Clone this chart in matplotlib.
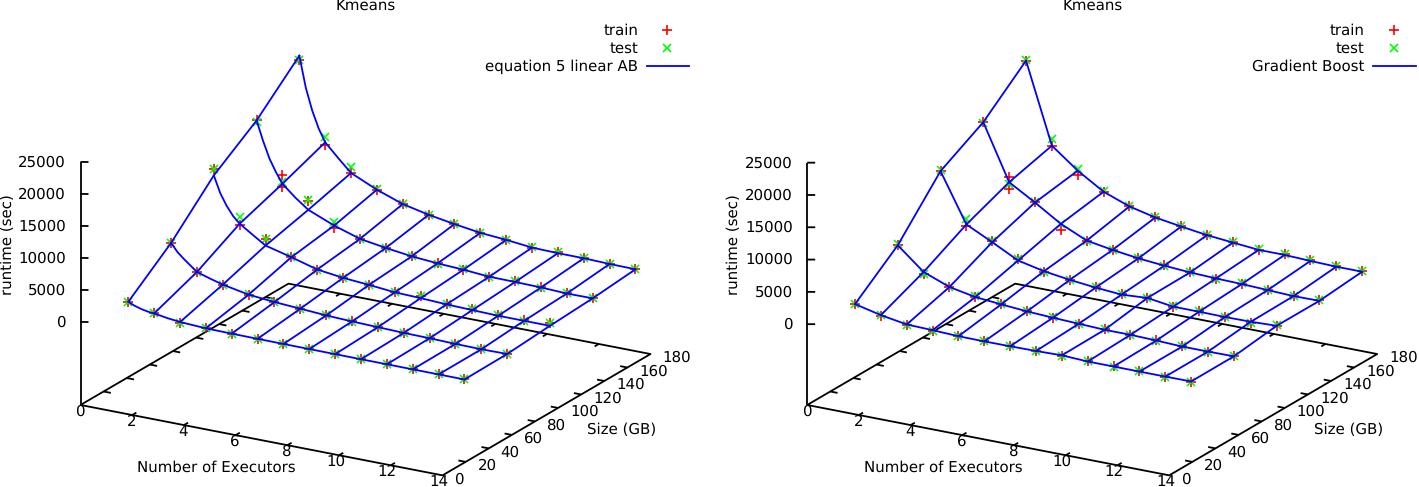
import numpy as np
import matplotlib
matplotlib.use('Agg')
import matplotlib.pyplot as plt
from matplotlib.lines import Line2D
from mpl_toolkits.mplot3d import proj3d

plt.rcParams['text.hinting'] = 'no_hinting'
plt.rcParams['text.hinting_factor'] = 1

W, H = 1419, 487

executors = [1, 2, 3, 4, 5, 6, 7, 8, 9, 10, 11, 12, 13, 14]
sizes = [19, 56, 93, 130, 167]

# measured runtimes, one list per size
train_s1 = [1938, 906, 219, 125, 30, 30, 30, 30, 30, 30, 30, 30, 20, 20]
train_s2 = [7234, 3484, 2297, 1516, 1141, 891, 625, 469, 360, 203, 203, 47, 20, 100]
train_s3 = [14828, 7000, 5450, 3469, 2328, 1812, 1500, 1125, 1390, 812, 920, 718, 656, 970]
train_s4 = [18578, 10766, 7641, 4200, 3219, 2594, 2062, 1750, 1547, 1234, 1281, 1125, 969, 1078]
train_s5 = [24141, 11687, 8047, 6219, 4766, 3875, 3203, 2625, 2312, 1891, 2000, 1797, 1687, 1640]
# second train run at 2 executors
train_extra_x = [2]
train_extra_y = [130]
train_extra_z = [8940]

test_s1 = [1900, 950, 250, 150, 50, 30, 40, 30, 40, 30, 20, 30, 20, 10]
test_s2 = [7300, 3520, 2250, 1560, 1100, 860, 650, 440, 380, 220, 180, 60, 30, 120]
test_s3 = [14900, 8140, 5500, 3500, 2300, 1850, 1480, 1160, 1350, 830, 900, 740, 640, 1000]
test_s4 = [18400, 9760, 7700, 5130, 3250, 2560, 2100, 1720, 1580, 1210, 1300, 1100, 990, 1050]
test_s5 = [24200, 12860, 8922, 6260, 4720, 3900, 3170, 2650, 2290, 1920, 1970, 1820, 1660, 1660]

# equation 5 curve
eq_x = [1, 1.25, 1.5, 1.75, 2, 2.5, 3, 4, 5, 6, 7, 8, 9, 10, 11, 12, 13, 14]
eq_s1 = [1938, 1500, 1200, 1000, 906, 580, 350, 150, 100, 80, 60, 50, 40, 30, 30, 20, 20, 10]
eq_s2 = [7234, 6000, 5100, 4300, 3484, 2859, 2297, 1516, 1141, 891, 625, 469, 360, 250, 200, 100, 50, 100]
eq_s3 = [13891, 11300, 9500, 8100, 7125, 5800, 4500, 3469, 2328, 1812, 1500, 1125, 1000, 812, 700, 600, 600, 600]
eq_s4 = [18578, 15600, 13000, 11086, 9469, 7700, 6187, 4516, 3219, 2594, 2062, 1750, 1547, 1234, 1200, 1125, 969, 1000]
eq_s5 = [24800, 20000, 16600, 14000, 12047, 10000, 8047, 6219, 4766, 3875, 3203, 2625, 2312, 1891, 1800, 1797, 1687, 1640]

# gradient boost predictions
gb_s1 = [1904, 975, 310, 200, 46, 20, 46, 93, 200, 20, 20, 20, 20, 46]
gb_s2 = [7152, 3793, 2245, 1471, 1115, 805, 604, 449, 294, 294, 186, 31, 31, 77]
gb_s3 = [14768, 7291, 5325, 3266, 2384, 1827, 1409, 1099, 1362, 789, 789, 743, 789, 944]
gb_s4 = [18483, 9969, 7601, 5077, 3266, 2600, 2074, 1718, 1455, 1300, 1207, 1053, 898, 944]
gb_s5 = [24149, 11765, 8669, 6192, 4690, 3762, 3142, 2585, 2214, 1858, 1858, 1703, 1594, 1594]

x_ticks = [0, 2, 4, 6, 8, 10, 12, 14]
y_ticks = [0, 20, 40, 60, 80, 100, 120, 140, 160, 180]
z_ticks = [0, 5000, 10000, 15000, 20000, 25000]

train_rows = [train_s1, train_s2, train_s3, train_s4, train_s5]
test_rows = [test_s1, test_s2, test_s3, test_s4, test_s5]

FS = 10.58
BLUE = '#0000ff'
LW = 1.3
plus = dict(ls='', marker='+', color='#ff0000', ms=6.8, mew=1.2)
cross = dict(ls='', marker='x', color='#00ff00', ms=5.6, mew=1.2)


def fx(px):
    return px / W


def fy(py):
    return 1 - py / H


def tick_label(ax, x, y, z, s, dx, dy, ha):
    # 2D annotation at the projected tick position, offset in pixels
    x2, y2, _ = proj3d.proj_transform(x, y, z, ax.get_proj())
    ax.annotate(s, (x2, y2), xytext=(dx, dy), textcoords='offset pixels', ha=ha, va='center',
                fontsize=FS, annotation_clip=False)


def panel(shift, zmin, model_x, model_rows, model_name):
    # box sizes in pixels, view matches gnuplot's 60,30 with its flattened y scale
    zheight = (25000 - zmin) * ZPX[zmin]
    aspect = np.array([418.0, 416.0, zheight / np.cos(np.radians(19.68))])
    norm = np.linalg.norm(aspect)
    side = 1.85 * norm / (1.8294640721620434 * 25 / 24)
    cx = 365.5 + shift
    cy = 379.5 - zheight / 2
    left = cx - 0.095 / 0.185 * side
    bottom = cy + 0.095 / 0.185 * side
    ax = fig.add_axes([fx(left), fy(bottom), side / W, side / H], projection='3d', proj_type='ortho')
    ax.view_init(elev=19.68, azim=-60)
    ax.set_box_aspect(aspect)
    ax.set_xlim(0, 14)
    ax.set_ylim(0, 180)
    ax.set_zlim(zmin, 25000)
    ax.set_axis_off()
    ax.computed_zorder = False

    # border of the base plane and z axis
    bk = dict(color='black', lw=LW, zorder=1, solid_capstyle='butt')
    ax.plot([0, 14, 14, 0, 0], [0, 0, 180, 180, 0], [zmin] * 5, **bk)
    ax.plot([0, 0], [0, 0], [zmin, 25000], **bk)
    for t in x_ticks[1:-1]:
        ax.plot([t, t], [0, 3.6], [zmin, zmin], **bk)
        ax.plot([t, t], [180, 176.4], [zmin, zmin], **bk)
    for t in y_ticks[1:-1]:
        ax.plot([0, 0.28], [t, t], [zmin, zmin], **bk)
        ax.plot([14, 13.72], [t, t], [zmin, zmin], **bk)
    for t in z_ticks:
        ax.plot([0, 0.2326], [0, 1.715], [t, t], **bk)

    # tick labels
    for t in x_ticks:
        tick_label(ax, t, 0, zmin, str(t), -0.5 if t < 10 else -3.5, -6.5, 'center')
    for t in y_ticks:
        tick_label(ax, 14, t, zmin, str(t), 12, -4, 'left')
    for t in z_ticks:
        tick_label(ax, 0, 0, t, str(t), -14.5, -0.5, 'right')

    # data
    for size, tr, te in zip(sizes, train_rows, test_rows):
        ax.plot(executors, [size] * 14, tr, zorder=3, **plus)
        ax.plot(executors, [size] * 14, te, zorder=4, **cross)
    ax.plot(train_extra_x, train_extra_y, train_extra_z, zorder=3, **plus)

    # model surface: lines along executors, then straight across sizes
    keep = [i for i, v in enumerate(model_x) if float(v).is_integer()]
    for size, row in zip(sizes, model_rows):
        ax.plot(model_x, [size] * len(model_x), row, color=BLUE, lw=LW, zorder=5)
    for i in keep:
        ax.plot([model_x[i]] * 5, sizes, [row[i] for row in model_rows], color=BLUE, lw=LW, zorder=5)

    # plain texts placed on the figure
    fig.text(fx(365.5 + shift), fy(10.8), 'Kmeans', ha='center', va='baseline', fontsize=FS)
    fig.text(fx(7.5 + shift), fy(245), 'runtime (sec)', rotation=90, ha='center', va='center', fontsize=FS)
    fig.text(fx(216.5 + shift), fy(472), 'Number of Executors', ha='center', va='baseline', fontsize=FS)
    fig.text(fx(622 + shift), fy(434), 'Size (GB)', ha='center', va='baseline', fontsize=FS)

    # key
    rx = 638 + shift
    fig.text(fx(rx), fy(35), 'train', ha='right', va='baseline', fontsize=FS)
    fig.text(fx(rx), fy(53), 'test', ha='right', va='baseline', fontsize=FS)
    fig.text(fx(rx), fy(71), model_name, ha='right', va='baseline', fontsize=FS)
    fig.add_artist(Line2D([fx(667.3 + shift)], [fy(30)], **plus))
    fig.add_artist(Line2D([fx(667.3 + shift)], [fy(48)], **cross))
    fig.add_artist(Line2D([fx(646.7 + shift), fx(689 + shift)], [fy(66), fy(66)], color=BLUE, lw=LW))
    return ax


fig = plt.figure(figsize=(W / 100, H / 100), dpi=100)

# pixels per runtime unit on each z axis, the bases sit lower than z=0
ZPX = {-12970: 0.0064, -12508: 0.00646}

panel(0, -12970, eq_x, [eq_s1, eq_s2, eq_s3, eq_s4, eq_s5], 'equation 5 linear AB')
panel(726.7, -12508, executors, [gb_s1, gb_s2, gb_s3, gb_s4, gb_s5], 'Gradient Boost')

fig.savefig('out.png', dpi=100)
